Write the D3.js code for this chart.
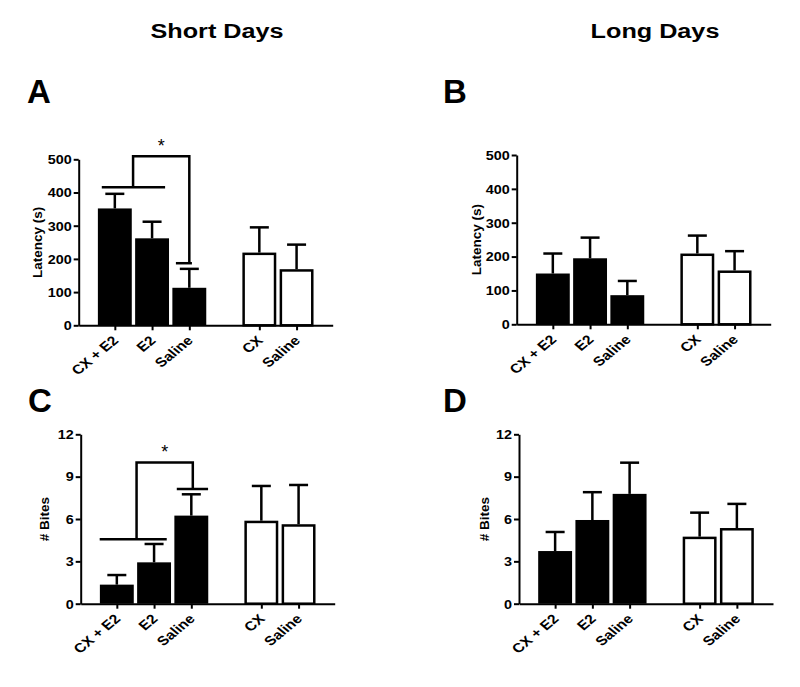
<!DOCTYPE html>
<html><head><meta charset="utf-8">
<script src="https://cdn.jsdelivr.net/npm/d3@7"></script>
<style>body{margin:0;background:#fff} svg{display:block}</style>
</head><body><svg id="c" width="800" height="687"></svg>
<script>
// ---------------- data ----------------
const categories = ["CX + E2", "E2", "Saline", "CX", "Saline"];
const groupOf = [0, 0, 0, 1, 1];            // 0 = filled (E2/CX+E2/Saline), 1 = open (CX/Saline)
const latencyTicks = [0, 100, 200, 300, 400, 500];
const bitesTicks = [0, 3, 6, 9, 12];
const columnTitles = ["Short Days", "Long Days"];
const panelLetters = ["A", "B", "C", "D"];

const shortLatencyMean = [352, 262, 113, 219, 169];
const shortLatencySem  = [44, 50, 57, 76, 74];
const longLatencyMean  = [150, 195, 86, 209, 159];
const longLatencySem   = [59, 61, 42, 53, 57];
const shortBitesMean   = [1.35, 2.93, 6.24, 5.88, 5.63];
const shortBitesSem    = [0.68, 1.30, 1.51, 2.46, 2.78];
const longBitesMean    = [3.73, 5.93, 7.78, 4.75, 5.36];
const longBitesSem     = [1.35, 1.97, 2.21, 1.70, 1.71];

// significance annotations (x in bar-slot units, y in data units)
const sigShortLatency = {groupLine: [-0.35, 1.35, 416], singleLine: [1.64, 2.07, 187], bracket: [0.49, 2.0, 509], star: 553};
const sigShortBites   = {groupLine: [-0.46, 1.34, 4.56], singleLine: [1.61, 2.45, 8.13], bracket: [0.53, 2.04, 10], star: 11.0};

// ---------------- layout ----------------
const SX = 1.2;           // horizontal text stretch of the original figure
const GROUP_GAP = 0.88;
const X_DOMAIN = [-0.97, 5.85];
const AXIS_LEN = 254;
const BAR_FRAC = 0.91;
const SW = 2.5;           // stroke width of open bars / error bars
const CAP = 19;

const svg = d3.select("#c");
const FONT = "'Liberation Sans', Arial, Helvetica, sans-serif";

function stretchedText(sel, x, y, txt, size, anchor, extra) {
  return sel.append("text")
    .attr("transform", `translate(${x},${y}) scale(${SX},1)` + (extra || ""))
    .attr("text-anchor", anchor)
    .attr("font-family", FONT).attr("font-weight", "bold").attr("font-size", size)
    .attr("fill", "#000").text(txt);
}

// column titles
stretchedText(svg, 217, 38, columnTitles[0], 21, "middle");
stretchedText(svg, 655, 38, columnTitles[1], 21, "middle");

const panels = [
  {letter: panelLetters[0], lx: 27, ly: 103, ax: 78.7, base: 325.3, top: 159.3, domain: [0, 500], ticks: latencyTicks, mean: shortLatencyMean, sem: shortLatencySem, title: "Latency (s)", titleOff: -37, sig: sigShortLatency},
  {letter: panelLetters[1], lx: 443, ly: 103, ax: 516.7, base: 324.3, top: 155, domain: [0, 500], ticks: latencyTicks, mean: longLatencyMean, sem: longLatencySem, title: "Latency (s)", titleOff: -36},
  {letter: panelLetters[2], lx: 28, ly: 412, ax: 80.7, base: 603.7, top: 434.3, domain: [0, 12], ticks: bitesTicks, mean: shortBitesMean, sem: shortBitesSem, title: "# Bites", titleOff: -31.5, sig: sigShortBites},
  {letter: panelLetters[3], lx: 443, ly: 412, ax: 519, base: 603.7, top: 434.3, domain: [0, 12], ticks: bitesTicks, mean: longBitesMean, sem: longBitesSem, title: "# Bites", titleOff: -30}
];

panels.forEach(drawPanel);

function drawPanel(cfg) {
  const g = svg.append("g");
  const y = d3.scaleLinear().domain(cfg.domain).range([cfg.base, cfg.top]);
  const x = d3.scaleLinear().domain(X_DOMAIN).range([cfg.ax, cfg.ax + AXIS_LEN]);
  const slots = categories.map((c, i) => i + GROUP_GAP * groupOf[i]);
  const data = categories.map((c, i) => ({c, s: slots[i], m: cfg.mean[i], e: cfg.sem[i], g: groupOf[i]}));
  const bw = BAR_FRAC * (x(1) - x(0));

  // panel letter
  g.append("text").attr("x", cfg.lx).attr("y", cfg.ly)
    .attr("font-family", FONT).attr("font-weight", "bold").attr("font-size", 33)
    .text(cfg.letter);

  // error bars
  const eb = g.append("g").attr("stroke", "#000").attr("stroke-width", SW).attr("fill", "none");
  eb.selectAll("line.v").data(data).join("line").attr("class", "v")
    .attr("x1", d => x(d.s)).attr("x2", d => x(d.s))
    .attr("y1", d => y(d.m)).attr("y2", d => y(d.m + d.e));
  eb.selectAll("line.c").data(data).join("line").attr("class", "c")
    .attr("x1", d => x(d.s) - CAP / 2).attr("x2", d => x(d.s) + CAP / 2)
    .attr("y1", d => y(d.m + d.e)).attr("y2", d => y(d.m + d.e));

  // bars
  g.selectAll("rect.bar").data(data).join("rect").attr("class", "bar")
    .attr("x", d => x(d.s) - bw / 2 + (d.g ? SW / 2 : 0))
    .attr("y", d => y(d.m) + (d.g ? SW / 2 : 0))
    .attr("width", d => bw - (d.g ? SW : 0))
    .attr("height", d => y(0) - y(d.m) - (d.g ? SW / 2 : 0))
    .attr("fill", d => d.g ? "#fff" : "#000")
    .attr("stroke", d => d.g ? "#000" : "none")
    .attr("stroke-width", SW);

  // y axis
  const ya = g.append("g").attr("transform", `translate(${cfg.ax},0)`)
    .call(d3.axisLeft(y).tickValues(cfg.ticks).tickSize(5).tickSizeOuter(0));
  ya.selectAll("path,line").attr("stroke", "#000").attr("stroke-width", 2);
  ya.selectAll("text")
    .attr("x", -7 / SX).attr("dy", "0.36em")
    .attr("transform", `scale(${SX},1)`)
    .attr("font-family", FONT).attr("font-weight", "bold").attr("font-size", 12).attr("fill", "#000");

  // x axis
  const xa = g.append("g").attr("transform", `translate(0,${cfg.base})`)
    .call(d3.axisBottom(x).tickValues(slots).tickFormat((d, i) => categories[i]).tickSize(5).tickSizeOuter(0));
  xa.selectAll("path,line").attr("stroke", "#000").attr("stroke-width", 2);
  xa.selectAll("text")
    .attr("x", null).attr("y", null).attr("dy", null)
    .attr("text-anchor", "end")
    .attr("transform", `translate(4,16) scale(${SX},1) rotate(-45)`)
    .attr("font-family", FONT).attr("font-weight", "bold").attr("font-size", 13).attr("fill", "#000");

  // y title
  g.append("text")
    .attr("transform", `translate(${cfg.ax + cfg.titleOff},${(cfg.base + cfg.top) / 2}) rotate(-90)`)
    .attr("text-anchor", "middle")
    .attr("font-family", FONT).attr("font-weight", "bold").attr("font-size", 13.5)
    .text(cfg.title);

  // significance
  if (cfg.sig) {
    const s = cfg.sig;
    const sx = v => x(v);
    const sg = g.append("g").attr("stroke", "#000").attr("stroke-width", SW).attr("fill", "none");
    sg.append("line").attr("x1", sx(s.groupLine[0])).attr("x2", sx(s.groupLine[1]))
      .attr("y1", y(s.groupLine[2])).attr("y2", y(s.groupLine[2]));
    sg.append("line").attr("x1", sx(s.singleLine[0])).attr("x2", sx(s.singleLine[1]))
      .attr("y1", y(s.singleLine[2])).attr("y2", y(s.singleLine[2]));
    sg.append("path").attr("d", d3.line()([
      [sx(s.bracket[0]), y(s.groupLine[2])],
      [sx(s.bracket[0]), y(s.bracket[2])],
      [sx(s.bracket[1]), y(s.bracket[2])],
      [sx(s.bracket[1]), y(s.singleLine[2])]
    ]));
    g.append("text")
      .attr("x", sx((s.bracket[0] + s.bracket[1]) / 2))
      .attr("y", y(s.star) + 10)
      .attr("text-anchor", "middle")
      .attr("font-family", FONT).attr("font-size", 18)
      .text("*");
  }
}
</script></body></html>
